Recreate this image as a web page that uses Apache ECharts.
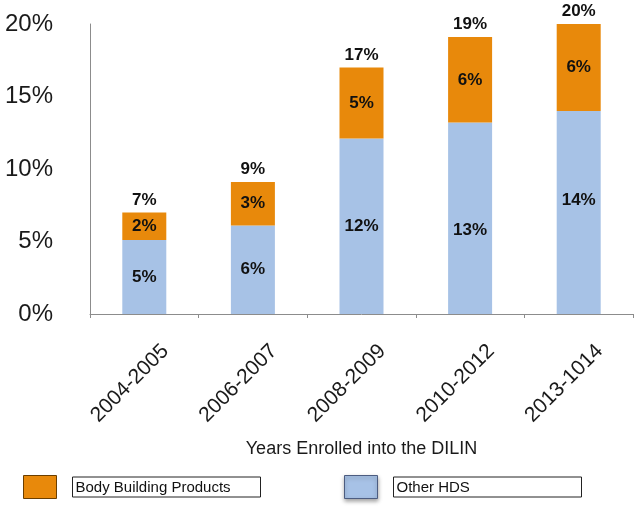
<!DOCTYPE html>
<html>
<head>
<meta charset="utf-8">
<script src="https://cdn.jsdelivr.net/npm/echarts@6/dist/echarts.min.js"></script>
<style>
  html, body { margin: 0; padding: 0; background: #fff; }
  #chart { width: 637px; height: 511px; }
</style>
</head>
<body>
<div id="chart"></div>
<script>
const categories = ['2004-2005', '2006-2007', '2008-2009', '2010-2012', '2013-1014'];
const otherHDS = [5.1, 6.1, 12.1, 13.2, 14.0];
const bodyBuilding = [1.9, 3.0, 4.9, 5.9, 6.0];
const yTicks = [0, 5, 10, 15, 20];
const totals = otherHDS.map((v, i) => v + bodyBuilding[i]);

const FONT = "'Liberation Sans', Arial, Helvetica, sans-serif";
const ORANGE = '#e8890b';
const BLUE = '#a7c2e6';

const chart = echarts.init(document.getElementById('chart'), null, { renderer: 'canvas' });

const pct = p => Math.round(p.value) + '%';
const inLabel = {
  show: true, position: 'inside', formatter: pct,
  color: '#111', fontFamily: FONT, fontWeight: 'bold', fontSize: 17
};
// manual label nudges seen in the reference (layout only)
const otherLabelShift = [0, 0, 0, 12, -12];

chart.setOption({
  animation: false,
  backgroundColor: '#fff',
  grid: { left: 90, right: 4, top: 24, bottom: 197, containLabel: false },
  xAxis: {
    type: 'category',
    data: categories,
    axisLine: { show: true, lineStyle: { color: '#8c8c8c', width: 1 } },
    axisTick: { show: true, alignWithLabel: false, length: 4, lineStyle: { color: '#8c8c8c' } },
    axisLabel: {
      rotate: 45, interval: 0, align: 'center', verticalAlign: 'middle',
      padding: [0, 41, 0, 0], margin: 55,
      color: '#1a1a1a', fontFamily: FONT, fontSize: 21
    },
    name: 'Years Enrolled into the DILIN',
    nameLocation: 'middle',
    nameGap: 126,
    nameTextStyle: { color: '#1a1a1a', fontFamily: FONT, fontSize: 18 }
  },
  yAxis: {
    type: 'value',
    min: yTicks[0], max: yTicks[yTicks.length - 1], interval: yTicks[1] - yTicks[0],
    axisLine: { show: true, lineStyle: { color: '#8c8c8c', width: 1 } },
    axisTick: { show: false },
    splitLine: { show: false },
    axisLabel: { formatter: '{value}%', margin: 37, color: '#1a1a1a', fontFamily: FONT, fontSize: 24 }
  },
  legend: {
    left: 23, top: 475, padding: 0,
    itemWidth: 33, itemHeight: 23, itemGap: 83,
    icon: 'rect',
    selectedMode: false,
    data: [
      { name: 'Body Building Products', itemStyle: { borderColor: '#6a3e00', borderWidth: 1 } },
      { name: 'Other HDS', itemStyle: { borderColor: '#4c5c80', borderWidth: 1, shadowBlur: 4, shadowColor: 'rgba(0,0,0,0.35)', shadowOffsetY: 2 } }
    ],
    formatter: name => '{s|}{b|' + name + '}',
    textStyle: {
      fontFamily: FONT, fontSize: 15, color: '#111',
      rich: {
        s: { width: 11 },
        b: { width: 182, height: 18, padding: [2, 3, 0, 3], borderColor: '#222', borderWidth: 1,
             fontFamily: FONT, fontSize: 15, color: '#111', align: 'left' }
      }
    }
  },
  series: [
    {
      name: 'Other HDS', type: 'bar', stack: 'total', barWidth: 44,
      itemStyle: { color: BLUE },
      label: inLabel,
      data: otherHDS.map((v, i) => ({ value: v, label: { offset: [0, otherLabelShift[i]] } }))
    },
    {
      name: 'Body Building Products', type: 'bar', stack: 'total', barWidth: 44,
      itemStyle: { color: ORANGE },
      label: inLabel,
      data: bodyBuilding
    },
    {
      name: 'Total', type: 'scatter', symbolSize: 0,
      itemStyle: { opacity: 1 },
      label: {
        show: true, position: 'top', distance: 4, formatter: pct,
        color: '#111', fontFamily: FONT, fontWeight: 'bold', fontSize: 17
      },
      data: totals
    }
  ]
});
</script>
</body>
</html>
